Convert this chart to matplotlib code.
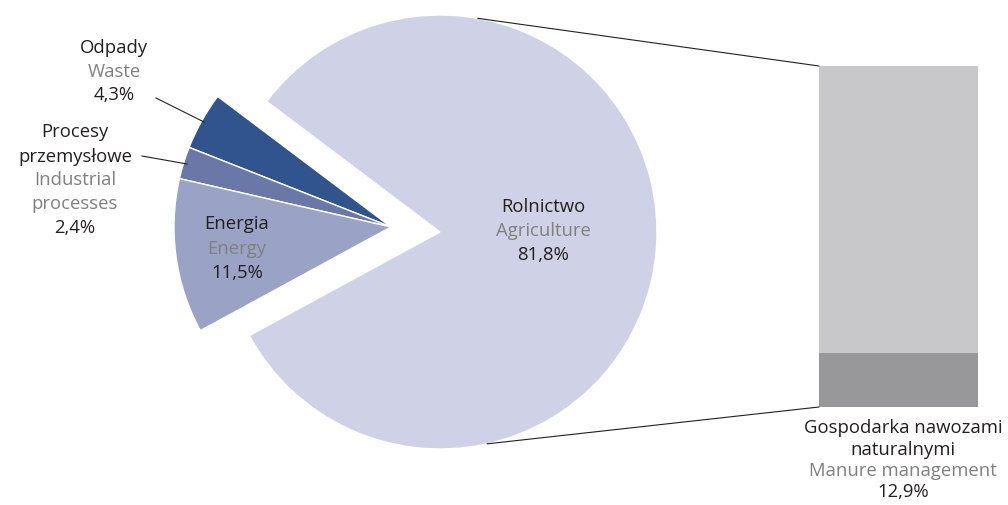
import numpy as np
import matplotlib
matplotlib.use("Agg")
import matplotlib.pyplot as plt
from matplotlib.patches import ConnectionPatch

plt.rcParams['font.family'] = ['Open Sans', 'DejaVu Sans']

# ---- data ----
pie_labels_pl = ["Odpady", "Procesy\nprzemysłowe", "Energia", "Rolnictwo"]
pie_labels_en = ["Waste", "Industrial\nprocesses", "Energy", "Agriculture"]
pie_values = [4.3, 2.4, 11.5, 81.8]
pie_colors = ["#31548e", "#6a78a8", "#9aa3c6", "#cfd2e6"]

bar_labels_pl = ["Gospodarka nawozami\nnaturalnymi", "Gleby rolne"]
bar_labels_en = ["Manure management", "Agricultural\nsoils"]
bar_values = [12.9, 68.9]
bar_colors = ["#98989b", "#c8c8ca"]

BLACK = "#231f20"
GRAY = "#808082"
FS = 13.3
W, H = 1008, 505

fig = plt.figure(figsize=(W / 100, H / 100), dpi=100)
ax = fig.add_axes([0, 0, 1, 1])

def Y(y):
    return H - y

pie_center = (440, Y(232))
small_center = (391, Y(227))
R = 217

wedges, _ = ax.pie(pie_values, startangle=143, counterclock=True, radius=R,
                   center=pie_center, colors=pie_colors,
                   wedgeprops=dict(edgecolor="white", linewidth=1.0))
for w in wedges[:3]:
    w.set_center(small_center)

ax.set_xlim(0, W)
ax.set_ylim(0, H)
ax.set_aspect("equal")
ax.axis("off")

def block(x, ys, lines):
    for y, (txt, col) in zip(ys, lines):
        ax.text(x, Y(y), txt, ha="center", va="center", fontsize=FS, color=col)

def pct(v):
    return f"{v:.1f}%".replace(".", ",")

# pie labels
block(114, [48, 72, 95], [(pie_labels_pl[0], BLACK), (pie_labels_en[0], GRAY), (pct(pie_values[0]), BLACK)])
pl = pie_labels_pl[1].split("\n")
en = pie_labels_en[1].split("\n")
block(75, [132, 157, 180, 204, 228], [(pl[0], BLACK), (pl[1], BLACK), (en[0], GRAY), (en[1], GRAY), (pct(pie_values[1]), BLACK)])
block(237, [224, 249, 273], [(pie_labels_pl[2], BLACK), (pie_labels_en[2], GRAY), (pct(pie_values[2]), BLACK)])
block(543, [207, 231, 255], [(pie_labels_pl[3], BLACK), (pie_labels_en[3], GRAY), (pct(pie_values[3]), BLACK)])

# leader lines
ax.plot([156, 204], [Y(98), Y(122)], color=BLACK, lw=0.8)
ax.plot([142, 187], [Y(156), Y(164)], color=BLACK, lw=0.8)

# bar of pie
bx0, by0, bx1, by1 = 819, 66, 978, 407
ax2 = fig.add_axes([bx0 / W, (H - by1) / H, (bx1 - bx0) / W, (by1 - by0) / H])
bottom = 0
for v, c in zip(bar_values, bar_colors):
    ax2.bar(0, v, width=1, bottom=bottom, color=c, edgecolor="none")
    bottom += v
ax2.set_xlim(-0.5, 0.5)
ax2.set_ylim(0, sum(bar_values))
ax2.axis("off")

gl = bar_labels_en[1].split("\n")
block(899, [173, 197, 221, 246], [(bar_labels_pl[1], BLACK), (gl[0], GRAY), (gl[1], GRAY), (pct(bar_values[1]), BLACK)])
gp = bar_labels_pl[0].split("\n")
block(903, [428, 450, 471, 492], [(gp[0], BLACK), (gp[1], BLACK), (bar_labels_en[0], GRAY), (pct(bar_values[0]), BLACK)])

# connector lines
for ang, yb in [(80, sum(bar_values)), (-77.5, 0)]:
    px = pie_center[0] + R * np.cos(np.radians(ang))
    py = pie_center[1] + R * np.sin(np.radians(ang))
    con = ConnectionPatch(xyA=(px, py), coordsA=ax.transData,
                          xyB=(-0.5, yb), coordsB=ax2.transData,
                          color=BLACK, lw=0.8)
    fig.add_artist(con)

fig.savefig("out.png", dpi=100)
